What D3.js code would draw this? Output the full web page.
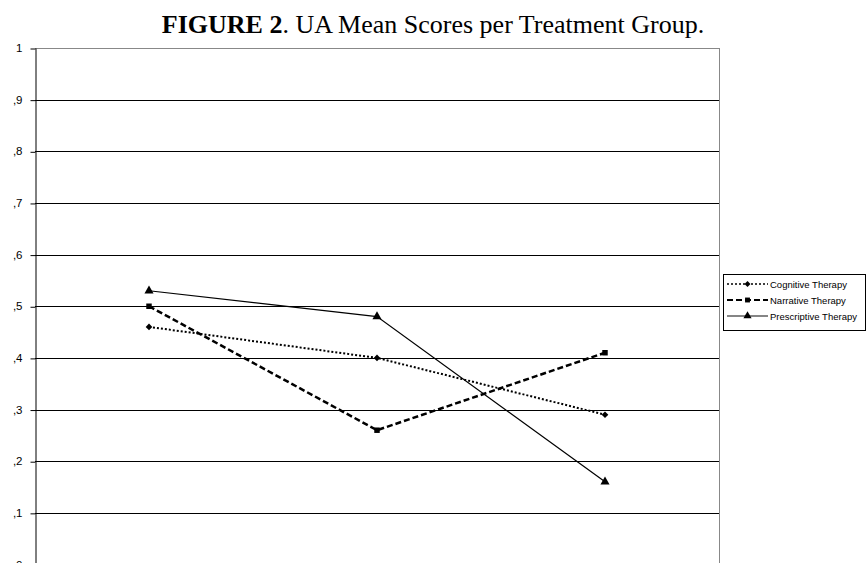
<!DOCTYPE html>
<html><head><meta charset="utf-8">
<script src="https://cdn.jsdelivr.net/npm/d3@7"></script>
<style>body{margin:0;background:#fff}svg{display:block}</style>
</head><body>
<svg id="c" width="866" height="563"></svg>
<script>
const categories = ["1", "2", "3"];
const cognitive = [0.46, 0.40, 0.29];
const narrative = [0.50, 0.26, 0.41];
const prescriptive = [0.53, 0.48, 0.16];
const seriesNames = ["Cognitive Therapy", "Narrative Therapy", "Prescriptive Therapy"];
const yTicks = [0, 0.1, 0.2, 0.3, 0.4, 0.5, 0.6, 0.7, 0.8, 0.9, 1];

const svg = d3.select("#c");
const L = 35, R = 719, T = 48, B = 564.5;
const x = d3.scalePoint().domain(categories).range([L, R]).padding(0.5);
const y = d3.scaleLinear().domain([0, 1]).range([B, T]);

// title
const title = svg.append("text").attr("x", 433).attr("y", 33).attr("text-anchor", "middle")
  .attr("font-family", "Liberation Serif, Times New Roman, serif").attr("font-size", 26).attr("fill", "#000");
title.append("tspan").attr("font-weight", "bold").text("FIGURE 2");
title.append("tspan").text(". UA Mean Scores per Treatment Group.");

// gridlines
svg.append("g").selectAll("line").data(yTicks.filter(d => d > 0 && d < 1)).join("line")
  .attr("x1", L).attr("x2", R).attr("y1", d => Math.round(y(d)) + 0.5).attr("y2", d => Math.round(y(d)) + 0.5)
  .attr("stroke", "#000").attr("stroke-width", 1);
// plot border top/right
svg.append("line").attr("x1", L).attr("x2", R).attr("y1", T + 0.5).attr("y2", T + 0.5).attr("stroke", "#888");
svg.append("line").attr("x1", R + 0.5).attr("x2", R + 0.5).attr("y1", T).attr("y2", B).attr("stroke", "#888");

// y axis
const fmt = d => d === 0 ? "0" : d === 1 ? "1" : "," + Math.round(d * 10);
const ax = svg.append("g").attr("transform", `translate(${L + 0.5},0)`)
  .call(d3.axisLeft(y).tickValues(yTicks).tickFormat(fmt).tickSize(5).tickPadding(8).tickSizeOuter(0));
ax.select(".domain").attr("stroke", "#000");
ax.selectAll(".tick line").attr("stroke", "#000").attr("transform", "translate(0,0.5)");
ax.selectAll("text").attr("font-family", "Liberation Sans, Arial, sans-serif").attr("font-size", 11.5).attr("fill", "#000");

const series = [
  {name: seriesNames[0], values: cognitive, dash: "2,2", width: 2, sym: d3.symbolSquare, rot: 45, size: 22},
  {name: seriesNames[1], values: narrative, dash: "6,3", width: 2.5, sym: d3.symbolSquare, rot: 0, size: 30},
  {name: seriesNames[2], values: prescriptive, dash: null, width: 1.2, sym: d3.symbolTriangle, rot: 0, size: 36}
];
const line = d3.line().x((d, i) => x(categories[i])).y(d => y(d));
series.forEach(s => {
  svg.append("path").datum(s.values).attr("d", line).attr("fill", "none").attr("stroke", "#000")
    .attr("stroke-width", s.width).attr("stroke-dasharray", s.dash);
  svg.append("g").selectAll("path").data(s.values).join("path")
    .attr("d", d3.symbol().type(s.sym).size(s.size))
    .attr("transform", (d, i) => `translate(${x(categories[i])},${y(d)}) rotate(${s.rot})`).attr("fill", "#000");
});

// legend
const lg = svg.append("g");
lg.append("rect").attr("x", 723.5).attr("y", 274.5).attr("width", 142).attr("height", 56)
  .attr("fill", "#fff").attr("stroke", "#000");
series.forEach((s, i) => {
  const yy = 284 + i * 16;
  lg.append("line").attr("x1", 727).attr("x2", 768).attr("y1", yy).attr("y2", yy).attr("stroke", "#000")
    .attr("stroke-width", s.width * 0.8).attr("stroke-dasharray", s.dash);
  lg.append("path").attr("d", d3.symbol().type(s.sym).size(s.size * 0.8)).attr("transform", `translate(747.5,${yy}) rotate(${s.rot})`);
  lg.append("text").attr("x", 770).attr("y", yy + 3.5).text(s.name)
    .attr("font-family", "Liberation Sans, Arial, sans-serif").attr("font-size", 9.5).attr("fill", "#000");
});
</script>
</body></html>
